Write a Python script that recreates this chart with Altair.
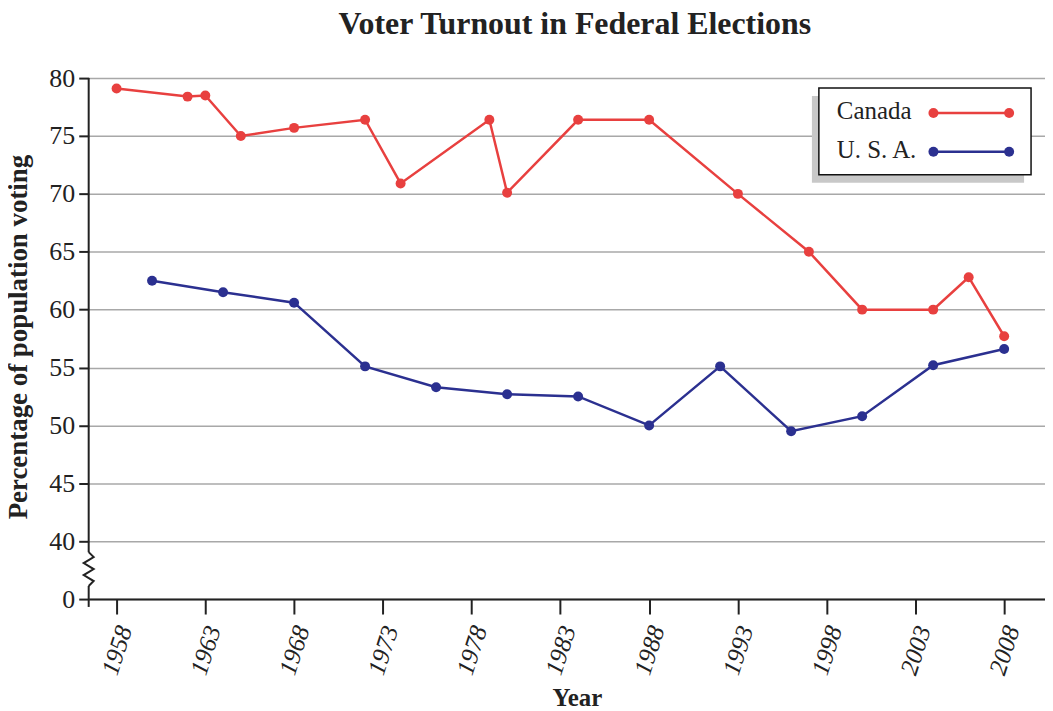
import altair as alt
import pandas as pd

# ---------------- data ----------------
canada_years = [1958, 1962, 1963, 1965, 1968, 1972, 1974, 1979, 1980, 1984, 1988,
                1993, 1997, 2000, 2004, 2006, 2008]
canada_turnout = [79.1, 78.4, 78.5, 75.0, 75.7, 76.4, 70.9, 76.4, 70.1, 76.4, 76.4,
                  70.0, 65.0, 60.0, 60.0, 62.8, 57.7]
usa_years = [1960, 1964, 1968, 1972, 1976, 1980, 1984, 1988, 1992, 1996, 2000, 2004, 2008]
usa_turnout = [62.5, 61.5, 60.6, 55.1, 53.3, 52.7, 52.5, 50.0, 55.1, 49.5, 50.8, 55.2, 56.6]
series = ["Canada", "U. S. A."]
colors = ["#e8403f", "#2b3090"]
x_tick_labels = [1958, 1963, 1968, 1973, 1978, 1983, 1988, 1993, 1998, 2003, 2008]
y_tick_labels = [0, 40, 45, 50, 55, 60, 65, 70, 75, 80]
title_text = "Voter Turnout in Federal Elections"

# axis break: value 0 is drawn where 35 would be
BREAK_POS = 35
y_tick_pos = [BREAK_POS if v == 0 else v for v in y_tick_labels]

FONT = "Liberation Serif"
INK = "#222222"
W, H = 960, 523
X_DOMAIN = [1956.43, 2010.3]
Y_DOMAIN = [BREAK_POS, 80]
px_per_year = W / (X_DOMAIN[1] - X_DOMAIN[0])
px_per_unit = H / (Y_DOMAIN[1] - Y_DOMAIN[0])

rows = [{"year": y, "turnout": t, "country": series[0]} for y, t in zip(canada_years, canada_turnout)]
rows += [{"year": y, "turnout": t, "country": series[1]} for y, t in zip(usa_years, usa_turnout)]
df = pd.DataFrame(rows)

xscale = alt.Scale(domain=X_DOMAIN, nice=False, zero=False)
yscale = alt.Scale(domain=Y_DOMAIN, nice=False, zero=False)
cscale = alt.Scale(domain=series, range=colors)

x_axis = alt.Axis(
    values=x_tick_labels, format="d", grid=False,
    labelAngle=-72, labelAlign="center", labelBaseline="middle",
    labelFontStyle="italic", labelFontSize=25, labelFont=FONT,
    labelColor=INK, labelPadding=36,
    tickSize=15, tickWidth=2, tickColor=INK, domainColor=INK, domainWidth=2,
    title="Year", titleFont=FONT, titleFontSize=25, titleFontWeight="bold",
    titleColor=INK, titleX=490, titleY=107, titleAlign="center",
    titleBaseline="alphabetic",
)
y_axis = alt.Axis(
    values=y_tick_pos, labelExpr=f"datum.value == {BREAK_POS} ? '0' : datum.label",
    labelFontSize=26, labelFont=FONT, labelColor=INK, labelPadding=4,
    tickSize=10, tickWidth=2, tickColor=INK, domain=False,
    grid=True, gridColor="#a8a8a8", gridWidth=1.5,
    title="Percentage of population voting", titleFont=FONT, titleFontSize=27,
    titleFontWeight="bold", titleColor=INK, titleX=-62, titleY=H / 2 - 2,
    titleAngle=-90, titleAlign="center", titleBaseline="alphabetic",
)

lines = alt.Chart(df).mark_line(
    strokeWidth=2.5,
    point=alt.OverlayMarkDef(filled=True, size=100, opacity=1),
).encode(
    x=alt.X("year:Q", scale=xscale, axis=x_axis),
    y=alt.Y("turnout:Q", scale=yscale, axis=y_axis),
    color=alt.Color("country:N", scale=cscale, legend=None),
)

# y-axis line, broken with a zigzag between 0 and 40
def ypx(py):  # page pixel -> data units (decoration only)
    return 40 - (py - 542) / px_per_unit

seg_df = pd.DataFrame({
    "x": [X_DOMAIN[0], X_DOMAIN[0]],
    "y": [80, ypx(587)],
    "y2": [ypx(553), ypx(608)],
})
axis_segs = alt.Chart(seg_df).mark_rule(color=INK, strokeWidth=2).encode(
    x=alt.X("x:Q", scale=xscale), y=alt.Y("y:Q", scale=yscale), y2="y2:Q"
)
zz_dx = [0, 5, -5, 5, -5, 5, 0]
zz_py = [553, 558, 564, 570, 576, 582, 587]
zz_df = pd.DataFrame({
    "x": [X_DOMAIN[0] + d / px_per_year for d in zz_dx],
    "y": [ypx(p) for p in zz_py],
    "o": list(range(len(zz_dx))),
})
zigzag = alt.Chart(zz_df).mark_line(color=INK, strokeWidth=2).encode(
    x=alt.X("x:Q", scale=xscale), y=alt.Y("y:Q", scale=yscale), order="o:O"
)

one = pd.DataFrame({"a": [0]})
ox, oy = 89, 77  # plot origin on the page

title = alt.Chart(one).mark_text(
    text=title_text, font=FONT, fontSize=32, fontWeight="bold", color=INK,
    align="center", baseline="alphabetic",
).encode(x=alt.value(577 - ox), y=alt.value(33 - oy))

# legend (drawn by hand: label left, line with dots right)
shadow = alt.Chart(one).mark_rect(color="#c8c8c8").encode(
    x=alt.value(815 - ox), x2=alt.value(1028 - ox), y=alt.value(95 - oy), y2=alt.value(182 - oy)
)
box = alt.Chart(one).mark_rect(fill="white", stroke="#111111", strokeWidth=1.5).encode(
    x=alt.value(822 - ox), x2=alt.value(1035 - ox), y=alt.value(87 - oy), y2=alt.value(174 - oy)
)
legend_layers = [shadow, box]
for i, (name, col) in enumerate(zip(series, colors)):
    ly = 112 + i * 39 - oy
    legend_layers.append(
        alt.Chart(one).mark_text(text=name, font=FONT, fontSize=25, color=INK,
                                 align="left", baseline="alphabetic").encode(
            x=alt.value(840 - ox), y=alt.value(ly + 6))
    )
    legend_layers.append(
        alt.Chart(one).mark_rule(color=col, strokeWidth=2.5).encode(
            x=alt.value(937 - ox), x2=alt.value(1013 - ox), y=alt.value(ly))
    )
    for px in (937, 1013):
        legend_layers.append(
            alt.Chart(one).mark_circle(color=col, size=100, opacity=1).encode(
                x=alt.value(px - ox), y=alt.value(ly))
        )

chart = alt.layer(lines, axis_segs, zigzag, title, *legend_layers).properties(
    width=W, height=H,
    autosize=alt.AutoSizeParams(type="none"),
    padding={"left": 81, "top": 69, "right": 0, "bottom": 111},
).configure_view(stroke=None)

chart.save("out.html", embed_options={"renderer": "svg", "actions": False})
